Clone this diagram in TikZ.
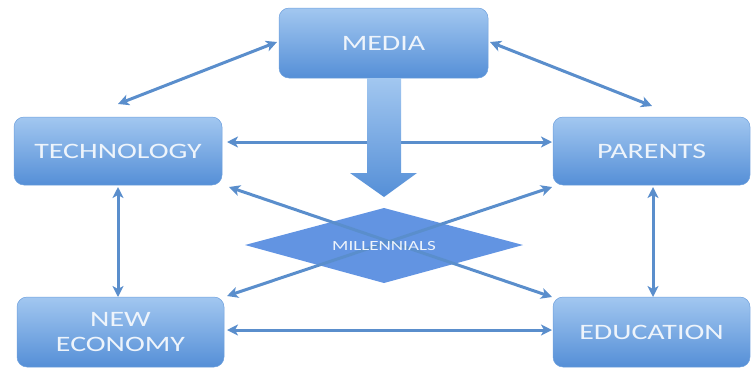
\documentclass[tikz,border=0pt]{standalone}
\usepackage{fontspec}
\setmainfont{Carlito}[FakeStretch=1.36]
\usetikzlibrary{arrows.meta}
\definecolor{boxtop}{HTML}{A2C7F0}
\definecolor{boxbot}{HTML}{558FD7}
\definecolor{linkblue}{HTML}{5A8ECC}
\definecolor{diamondblue}{HTML}{6294E2}
\definecolor{labelwhite}{HTML}{EEF4FB}
\begin{document}
\begin{tikzpicture}[x=1pt,y=-1pt,
  box/.style={rounded corners=10pt, top color=boxtop, bottom color=boxbot,
    draw=boxbot!85!white, line width=0.5pt, inner sep=0pt,
    text=labelwhite, font=\fontsize{22}{25}\selectfont, align=center},
  link/.style={draw=linkblue, line width=3pt,
    {Stealth[length=11pt,width=11pt,inset=3pt]}-{Stealth[length=11pt,width=11pt,inset=3pt]}}]
\useasboundingbox (0,0) rectangle (751,368);

% the five factor boxes
\node[box, minimum width=209pt, minimum height=70pt] (media) at (383.5,43) {MEDIA};
\node[box, minimum width=208pt, minimum height=68pt] (tech) at (118,151) {TECHNOLOGY};
\node[box, minimum width=197pt, minimum height=68pt] (par) at (651.5,151) {PARENTS};
\node[box, minimum width=207pt, minimum height=70pt] (econ) at (120.5,332) {NEW\\ECONOMY};
\node[box, minimum width=197pt, minimum height=70pt] (edu) at (651.5,332) {EDUCATION};

% central diamond
\fill[diamondblue] (245,245) -- (384,208) -- (523,245) -- (384,283) -- cycle;

% reference points where the connectors stop
\coordinate (mediaL) at (277,42);
\coordinate (mediaR) at (490,42);
\coordinate (techT) at (118,104);
\coordinate (parT) at (652,106);
\coordinate (techR) at (227,142);
\coordinate (parL) at (552,142);
\coordinate (techBR) at (229,187);
\coordinate (eduTL) at (552,297);
\coordinate (parBL) at (552,187);
\coordinate (econTR) at (227,296);
\coordinate (techB) at (118,187);
\coordinate (econT) at (118,297);
\coordinate (parB) at (653,187);
\coordinate (eduT) at (653,297);
\coordinate (econR) at (227,330);
\coordinate (eduL) at (552,330);

% two-way connectors
\path[link] (mediaL) -- (techT);
\path[link] (mediaR) -- (parT);
\path[link] (techR) -- (parL);
\path[link] (techBR) -- (eduTL);
\path[link] (parBL) -- (econTR);
\path[link] (techB) -- (econT);
\path[link] (parB) -- (eduT);
\path[link] (econR) -- (eduL);

% label of the diamond, set over the crossing connectors
\node[text=labelwhite, font=\fontsize{14}{16}\selectfont] (mill) at (384,246) {MILLENNIALS};

% broad arrow from MEDIA down to the diamond
\shade[top color=boxtop, bottom color=boxbot]
  (367,78) -- (401,78) -- (401,173) -- (417,173) -- (384,197) -- (350,173) -- (367,173) -- cycle;
\end{tikzpicture}
\end{document}
